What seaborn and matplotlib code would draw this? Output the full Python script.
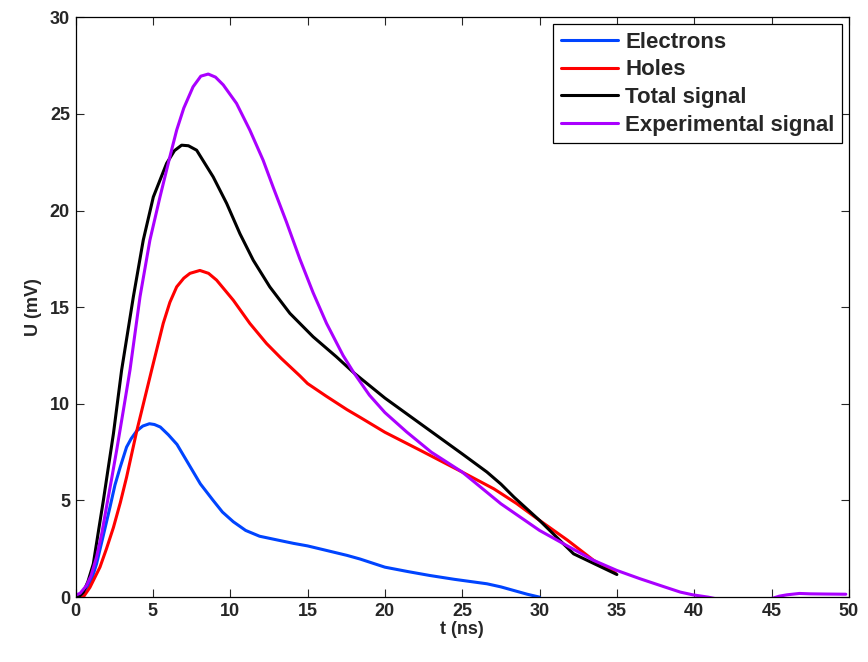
import matplotlib
matplotlib.use('Agg')
import matplotlib.pyplot as plt
import pandas as pd
import seaborn as sns

sns.set_theme(style='ticks')
plt.rcParams['font.family'] = ['Liberation Sans', 'DejaVu Sans']
plt.rcParams['font.weight'] = 'bold'

# values (t in ns, U in mV)
t_electrons = [0.0, 0.3, 0.7, 1.0, 1.36, 1.8, 2.23, 2.55, 2.88, 3.3, 3.6, 3.96, 4.35, 4.78, 5.1,
               5.48, 6.0, 6.56, 7.3, 8.07, 8.9, 9.5, 10.2, 11.0, 11.9, 13.2, 14.1, 15.0, 16.2,
               17.55, 18.4, 20.0, 21.5, 22.9, 24.5, 26.6, 27.5, 28.35, 29.2, 30.0]
u_electrons = [0.0, 0.0, 0.3, 0.8, 1.72, 3.2, 4.66, 5.8, 6.7, 7.76, 8.2, 8.6, 8.85, 8.97, 8.93,
               8.8, 8.4, 7.9, 6.9, 5.86, 5.0, 4.4, 3.9, 3.45, 3.15, 2.93, 2.78, 2.65, 2.42,
               2.16, 1.97, 1.55, 1.32, 1.12, 0.92, 0.69, 0.53, 0.34, 0.15, 0.0]

t_holes = [0.0, 0.5, 0.93, 1.58, 2.0, 2.45, 2.9, 3.3, 3.96, 4.92, 5.67, 6.1, 6.54, 7.0, 7.4,
           8.04, 8.6, 9.12, 10.2, 11.27, 12.35, 13.3, 14.5, 15.0, 16.2, 17.55, 18.4, 20.0,
           22.3, 25.0, 27.05, 28.5, 30.0, 31.8, 33.5, 34.9]
u_holes = [0.0, 0.0, 0.5, 1.55, 2.5, 3.6, 4.9, 6.2, 8.6, 11.74, 14.16, 15.25, 16.05, 16.5, 16.75,
           16.9, 16.75, 16.4, 15.36, 14.16, 13.12, 12.35, 11.45, 11.05, 10.4, 9.7, 9.3, 8.53,
           7.59, 6.47, 5.6, 4.85, 3.97, 2.95, 1.9, 1.25]

t_total = [0.0, 0.2, 0.5, 0.8, 1.15, 1.5, 1.8, 2.1, 2.45, 2.98, 3.74, 4.38, 5.03, 5.89, 6.4,
           6.86, 7.3, 7.83, 8.9, 9.77, 10.63, 11.49, 12.56, 13.86, 15.36, 16.87, 18.0, 20.0,
           22.3, 25.0, 26.6, 27.5, 28.35, 30.0, 32.2, 35.0]
u_total = [0.0, 0.0, 0.25, 0.8, 1.72, 3.5, 5.0, 6.6, 8.45, 11.74, 15.54, 18.47, 20.7, 22.44, 23.1,
           23.38, 23.35, 23.12, 21.74, 20.37, 18.8, 17.43, 16.05, 14.68, 13.47, 12.43, 11.6, 10.3,
           8.97, 7.41, 6.47, 5.85, 5.17, 3.97, 2.24, 1.17]

t_experiment = [0.0, 0.3, 0.71, 1.0, 1.36, 1.7, 2.0, 2.33, 2.66, 3.1, 3.52, 4.17, 4.81, 5.46,
                6.1, 6.54, 7.0, 7.6, 8.1, 8.58, 9.05, 9.55, 10.41, 11.27, 12.13, 12.78, 13.64,
                14.5, 15.36, 16.23, 17.3, 18.0, 19.0, 20.0, 21.4, 23.0, 25.0, 27.5, 30.0, 31.8,
                33.5, 35.0, 36.5, 38.0, 39.1, 39.9, 40.9, 41.5, 43.0, 44.5, 45.1, 45.5, 46.0,
                46.8, 47.5, 48.5, 49.8]
u_experiment = [0.1, 0.2, 0.6, 1.1, 2.07, 3.3, 4.66, 6.1, 7.6, 9.7, 11.74, 15.54, 18.47, 20.7,
                22.78, 24.16, 25.3, 26.4, 26.95, 27.06, 26.9, 26.5, 25.54, 24.16, 22.6, 21.2, 19.4,
                17.5, 15.75, 14.16, 12.5, 11.6, 10.45, 9.55, 8.55, 7.5, 6.47, 4.83, 3.45, 2.65,
                1.9, 1.38, 0.95, 0.55, 0.26, 0.12, 0.0, -0.1, -0.2, -0.15, -0.05, 0.05, 0.12,
                0.19, 0.17, 0.16, 0.15]

series = [
    ('Electrons', t_electrons, u_electrons, '#0044ff'),
    ('Holes', t_holes, u_holes, '#ff0000'),
    ('Total signal', t_total, u_total, '#000000'),
    ('Experimental signal', t_experiment, u_experiment, '#aa00ff'),
]

fig = plt.figure(figsize=(8.68, 6.62), dpi=100)
ax = fig.add_axes([0.087, 0.098, 0.891, 0.876])

for name, t, u, color in series:
    df = pd.DataFrame({'t': t, 'U': u})
    sns.lineplot(data=df, x='t', y='U', ax=ax, color=color, linewidth=2.2,
                 label=name, sort=False, estimator=None)

ax.set_xlim(0, 50)
ax.set_ylim(0, 30)
ax.set_xticks(range(0, 51, 5))
ax.set_yticks(range(0, 31, 5))
ax.set_xlabel('t (ns)', fontsize=13, fontweight='bold', labelpad=1)
ax.set_ylabel('U (mV)', fontsize=13, fontweight='bold', labelpad=6)
ax.tick_params(direction='in', length=6, width=0.8, labelsize=13, top=True, right=True, pad=4)
for lab in ax.get_xticklabels() + ax.get_yticklabels():
    lab.set_fontweight('bold')
for sp in ax.spines.values():
    sp.set_visible(True)
    sp.set_linewidth(0.9)
    sp.set_color('black')

leg = ax.legend(loc='upper right', fontsize=16, frameon=True, fancybox=False,
                borderaxespad=0.3, handlelength=2.6, handletextpad=0.3,
                labelspacing=0.3, borderpad=0.35)
leg.get_frame().set_edgecolor('black')
leg.get_frame().set_linewidth(0.9)
leg.get_frame().set_alpha(1)
for txt in leg.get_texts():
    txt.set_fontweight('bold')

fig.savefig('out.png', dpi=100, facecolor='white')
